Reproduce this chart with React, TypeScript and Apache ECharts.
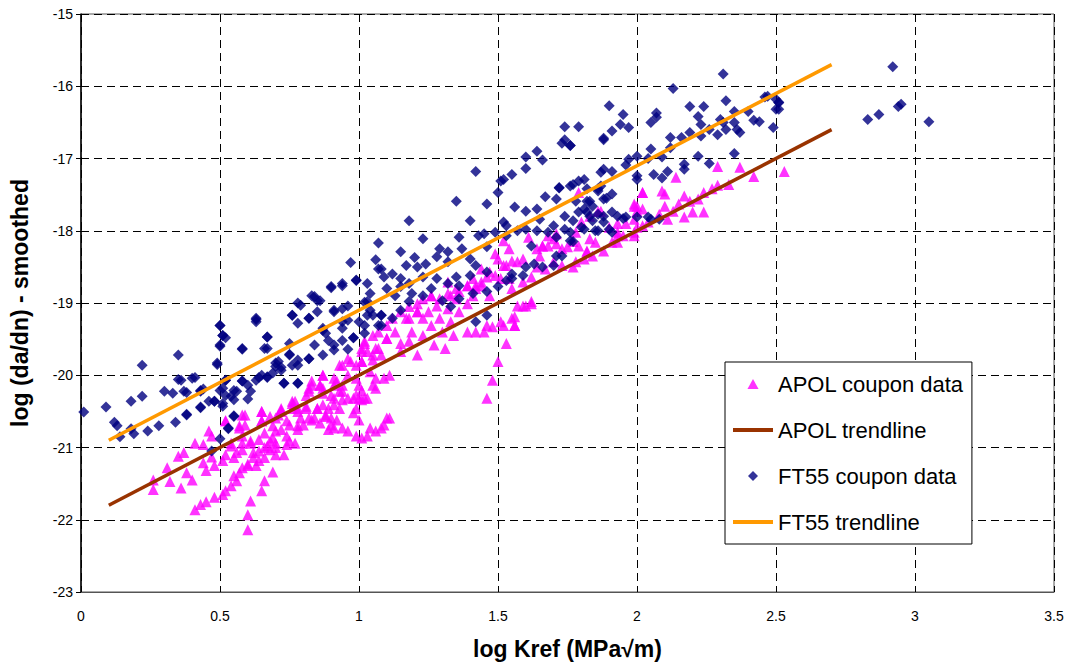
import React, { useEffect, useRef } from "react";
import * as echarts from "echarts";

const xTicks = [0, 0.5, 1, 1.5, 2, 2.5, 3, 3.5];
const yTicks = [-23, -22, -21, -20, -19, -18, -17, -16, -15];

const apolTrend: [number, number][] = [[0.1, -21.8], [2.7, -16.6]];
const ft55Trend: [number, number][] = [[0.1, -20.9], [2.7, -15.7]];

const ft55Data: [number, number][] = [
  [0.01, -20.51], [0.13, -20.70], [0.09, -20.44], [0.12, -20.65], [0.14, -20.85], [0.18, -20.74], [0.19, -20.81],
  [0.18, -20.36], [0.22, -19.86], [0.22, -20.29], [0.24, -20.77], [0.28, -20.70], [0.30, -20.22], [0.33, -20.25],
  [0.34, -20.65], [0.35, -19.72], [0.35, -20.06], [0.38, -20.24], [0.38, -20.54], [0.41, -20.03], [0.43, -20.22],
  [0.43, -20.44], [0.44, -20.19], [0.46, -20.36], [0.48, -20.36], [0.47, -21.05], [0.50, -19.31], [0.51, -19.45],
  [0.50, -19.60], [0.52, -19.48], [0.49, -19.85], [0.51, -20.18], [0.52, -20.07], [0.51, -20.43], [0.53, -20.74],
  [0.50, -20.88], [0.55, -20.56], [0.54, -20.29], [0.56, -20.22], [0.58, -19.64], [0.58, -20.08], [0.60, -20.33],
  [0.63, -19.26], [0.63, -19.21], [0.67, -19.47], [0.67, -19.63], [0.64, -20.03], [0.65, -20.0], [0.67, -20.02],
  [0.69, -19.97], [0.70, -19.88], [0.72, -19.89], [0.71, -19.81], [0.73, -20.11], [0.75, -19.56], [0.78, -20.11],
  [0.75, -19.71], [0.76, -19.86], [0.78, -19.79], [0.76, -19.17], [0.79, -19.03], [0.78, -19.28], [0.82, -19.21],
  [0.82, -19.77], [0.84, -18.91], [0.85, -19.12], [0.86, -18.97], [0.87, -19.38], [0.88, -19.42], [0.89, -19.52],
  [0.90, -18.77], [0.91, -19.12], [0.91, -19.58], [0.94, -18.76], [0.94, -19.08], [0.94, -19.26], [0.94, -19.52],
  [0.96, -19.64], [0.96, -19.24], [0.98, -19.48], [0.99, -18.69], [1.03, -18.73], [1.04, -19.10], [1.02, -18.99],
  [1.04, -18.87], [1.05, -19.17], [1.02, -19.31], [1.07, -19.31],
  [1.07, -18.17], [0.97, -18.44], [1.06, -18.40], [1.07, -18.53], [0.99, -18.68], [0.94, -18.73], [0.90, -18.79],
  [0.83, -18.90], [0.85, -18.97], [0.78, -19.00], [0.76, -19.17], [0.63, -19.23], [0.50, -19.31], [0.82, -19.21],
  [0.91, -19.10], [0.96, -19.04], [1.03, -18.98], [1.03, -19.17], [1.08, -19.17], [1.00, -19.26], [0.87, -19.35],
  [0.94, -19.35], [0.98, -19.48], [1.02, -19.42], [0.84, -19.58], [0.91, -19.65], [0.87, -19.72], [0.82, -19.77],
  [0.75, -19.72], [0.78, -19.86], [0.70, -19.83], [0.72, -19.93], [0.67, -20.03], [0.63, -20.07], [0.58, -20.08],
  [0.60, -20.14], [0.61, -20.22], [0.55, -20.21], [0.52, -20.07], [0.50, -20.21], [0.52, -20.28], [0.55, -20.34],
  [0.51, -20.39], [0.48, -20.36], [0.43, -20.21], [0.37, -20.22], [0.40, -20.04], [0.36, -20.07], [0.43, -20.45],
  [0.38, -20.55], [0.55, -20.57], [0.53, -20.73], [0.78, -20.11], [0.73, -20.11], [0.49, -19.83], [0.50, -19.58],
  [0.58, -19.63], [0.66, -19.63], [0.67, -19.47], [0.51, -19.45],
  [1.73, -16.79], [1.76, -16.82], [1.64, -16.90], [1.60, -16.98], [1.66, -17.02], [1.60, -17.14], [1.42, -17.18],
  [1.55, -17.22], [1.52, -17.29], [1.50, -17.47], [1.35, -17.59], [1.46, -17.63], [1.18, -17.86], [1.40, -17.86],
  [1.23, -18.11], [1.15, -18.29], [1.20, -18.37], [1.29, -18.25], [1.36, -18.09], [1.43, -18.07], [1.52, -17.88],
  [1.56, -17.67], [1.60, -17.73], [1.64, -17.70], [1.67, -17.53], [1.72, -17.41], [1.76, -17.38], [1.79, -17.31],
  [1.82, -17.42], [1.78, -17.59], [1.71, -17.56], [1.74, -17.80], [1.79, -17.74], [1.83, -17.80], [1.77, -17.86],
  [1.70, -17.93], [1.65, -17.84], [1.60, -17.98], [1.57, -18.00], [1.53, -17.93], [1.49, -18.02], [1.45, -18.04],
  [1.37, -18.25], [1.46, -18.22], [1.53, -18.07], [1.64, -18.00], [1.74, -17.98], [1.80, -17.95], [1.84, -17.86],
  [1.77, -18.15], [1.71, -18.35], [1.62, -18.21], [1.63, -18.46], [1.60, -18.50], [1.55, -18.60], [1.53, -18.69],
  [1.50, -18.77], [1.46, -18.84], [1.46, -18.57], [1.42, -18.48], [1.40, -18.62], [1.36, -18.76], [1.35, -18.64],
  [1.40, -18.39], [1.32, -18.43], [1.28, -18.36], [1.32, -18.29], [1.24, -18.46], [1.21, -18.50], [1.17, -18.48],
  [1.12, -18.60], [1.09, -18.64], [1.08, -18.53], [1.15, -18.66], [1.18, -18.73], [1.23, -18.64], [1.28, -18.66],
  [1.32, -18.73], [1.26, -18.80], [1.19, -18.87], [1.15, -18.77], [1.10, -18.80], [1.13, -18.90], [1.18, -18.98],
  [1.23, -18.90], [1.30, -18.97], [1.36, -18.94], [1.41, -18.87], [1.33, -19.05], [1.15, -19.10], [1.12, -19.21],
  [1.08, -19.17], [1.08, -19.31], [1.46, -19.17], [1.42, -19.26],
  [2.31, -15.83], [2.13, -16.03], [2.32, -16.20], [2.51, -16.23], [2.47, -16.14], [2.51, -16.32], [1.90, -16.27],
  [1.95, -16.39], [2.19, -16.28], [2.24, -16.28], [2.35, -16.35], [2.40, -16.35], [2.07, -16.37], [2.07, -16.43],
  [2.05, -16.50], [2.22, -16.42], [2.30, -16.46], [2.31, -16.50], [2.42, -16.47], [2.44, -16.49], [2.49, -16.57],
  [2.35, -16.50], [2.36, -16.60], [2.37, -16.64], [2.32, -16.60], [2.29, -16.67], [2.26, -16.60], [2.23, -16.53],
  [2.23, -16.69], [2.19, -16.64], [2.16, -16.71], [2.12, -16.71], [2.12, -16.85], [2.05, -16.87], [1.97, -16.57],
  [1.94, -16.53], [1.91, -16.62], [1.88, -16.72], [2.35, -16.93], [2.22, -16.97], [2.09, -16.98], [2.04, -17.00],
  [2.00, -16.97], [1.97, -17.01], [1.96, -17.09], [2.17, -17.08], [2.17, -17.15], [2.26, -17.07], [2.11, -17.18],
  [2.06, -17.22], [2.09, -17.27], [2.00, -17.24], [1.91, -17.18], [1.88, -17.15], [1.87, -17.19], [1.81, -17.29],
  [1.87, -17.38], [1.86, -17.45], [1.91, -17.49], [1.89, -17.55], [1.82, -17.59], [1.84, -17.66], [1.82, -17.74],
  [1.86, -17.77], [1.91, -17.74], [1.88, -17.88], [1.96, -17.81], [2.00, -17.81], [2.05, -17.84], [2.08, -17.84],
  [1.91, -18.02], [1.85, -18.00], [1.81, -17.98],
  [1.51, -17.31], [1.72, -17.40], [1.77, -17.36], [1.86, -17.42], [2.00, -17.29], [1.83, -17.59], [1.88, -17.56],
  [1.81, -17.70], [1.88, -17.80], [1.93, -17.80], [1.95, -17.83], [2.04, -17.81], [1.90, -17.98], [1.86, -18.00],
  [1.76, -18.02], [1.71, -18.09], [1.76, -18.14], [1.68, -18.02], [1.73, -18.35], [1.70, -18.48], [1.66, -18.50],
  [1.59, -18.62], [1.55, -18.66],
  [1.74, -16.56], [1.79, -16.56], [1.74, -16.74], [1.76, -16.82], [1.88, -16.74],
  [2.46, -16.15], [2.51, -16.22], [2.50, -16.32], [2.50, -16.18],
  [2.92, -15.73], [2.83, -16.46], [2.87, -16.39], [2.94, -16.28], [2.95, -16.25], [3.05, -16.49],
];

const apolData: [number, number][] = [
  [0.26, -21.45], [0.26, -21.58], [0.31, -21.28], [0.32, -21.47], [0.35, -21.12], [0.37, -21.07], [0.36, -21.56],
  [0.38, -21.35], [0.40, -21.45], [0.41, -20.94], [0.44, -20.96], [0.41, -21.86], [0.43, -21.79], [0.45, -21.75],
  [0.48, -21.69], [0.51, -21.65], [0.52, -21.60], [0.54, -21.53], [0.56, -21.46], [0.55, -21.39], [0.57, -21.35],
  [0.58, -21.28], [0.60, -21.25], [0.61, -21.74], [0.60, -21.93], [0.60, -22.14], [0.65, -21.60], [0.66, -21.46],
  [0.69, -21.34], [0.63, -21.25], [0.62, -21.14], [0.64, -21.18], [0.66, -21.14], [0.44, -21.21], [0.45, -21.32],
  [0.48, -21.25], [0.47, -21.13], [0.51, -21.18], [0.52, -21.10], [0.55, -21.14], [0.54, -20.98], [0.56, -21.07],
  [0.58, -21.03], [0.60, -21.23], [0.62, -21.07], [0.64, -21.05], [0.66, -21.0], [0.68, -21.03], [0.70, -21.10],
  [0.73, -21.10], [0.67, -20.98], [0.58, -20.94], [0.61, -20.91], [0.64, -20.89], [0.68, -20.91], [0.70, -20.94],
  [0.74, -20.96], [0.75, -20.91], [0.77, -20.94], [0.46, -20.77], [0.47, -20.84], [0.52, -20.63], [0.54, -20.94],
  [0.57, -20.73], [0.59, -20.55], [0.58, -20.84], [0.61, -20.94], [0.65, -20.50], [0.65, -20.63], [0.66, -20.80],
  [0.68, -20.57], [0.69, -20.70], [0.70, -20.77], [0.71, -20.55], [0.72, -20.48], [0.74, -20.84], [0.75, -20.69],
  [0.76, -20.39], [0.78, -20.46], [0.78, -20.75], [0.80, -20.69], [0.81, -20.46], [0.82, -20.22], [0.82, -20.59],
  [0.85, -20.46], [0.86, -20.14], [0.87, -20.25], [0.86, -20.66], [0.88, -20.57], [0.89, -20.46], [0.90, -20.69],
  [0.91, -20.32], [0.92, -20.62], [0.94, -20.73], [0.96, -20.77], [0.94, -20.34], [0.99, -20.46], [0.99, -20.84],
  [1.01, -20.87], [1.03, -20.84], [1.06, -20.77], [1.08, -20.73], [1.10, -20.59], [0.94, -20.22], [1.00, -20.32],
  [1.01, -20.21], [1.05, -20.14], [1.02, -20.32], [0.91, -20.14], [0.83, -20.08],
  [0.87, -20.0], [0.82, -20.18], [0.86, -20.14], [0.87, -20.18], [0.94, -19.86], [0.96, -19.77], [0.96, -20.0],
  [0.99, -20.04], [1.01, -19.81], [1.02, -19.56], [1.01, -19.67], [1.04, -19.95], [1.05, -19.72], [1.06, -20.04],
  [0.92, -20.08], [0.91, -20.41], [0.96, -20.32], [0.93, -20.22], [0.99, -20.27], [1.01, -20.34], [0.85, -20.46],
  [0.88, -20.55], [0.84, -20.59], [0.91, -20.73], [0.89, -20.75], [0.79, -20.59], [0.81, -20.43], [0.76, -20.36],
  [0.78, -20.50], [0.72, -20.46], [0.74, -20.63], [0.72, -20.75], [0.69, -20.87], [0.70, -21.0], [0.65, -20.50],
  [0.65, -20.63], [0.58, -20.55], [0.59, -20.69], [0.57, -20.70], [0.52, -20.63],
  [1.02, -19.53], [1.03, -19.67], [1.01, -19.81], [0.99, -19.86], [1.05, -19.79], [1.07, -19.63], [1.08, -19.72],
  [1.10, -19.49], [1.13, -19.40], [1.15, -19.56], [1.15, -19.67], [1.19, -19.40], [1.18, -19.53], [1.21, -19.72],
  [1.23, -19.45], [1.23, -19.21], [1.26, -19.31], [1.27, -19.58], [1.30, -19.40], [1.31, -19.63], [1.33, -19.26],
  [1.34, -19.45], [1.36, -19.12], [1.39, -19.40], [1.42, -19.40], [1.45, -19.40], [1.48, -19.33], [1.52, -19.31],
  [1.56, -19.31], [1.56, -19.19], [1.59, -19.04], [1.62, -19.01], [1.53, -19.56], [1.50, -19.81], [1.48, -20.07],
  [1.46, -20.32], [1.29, -19.21], [1.25, -19.12], [1.21, -19.12], [1.18, -19.21], [1.23, -18.94], [1.28, -19.04],
  [1.32, -19.08], [1.33, -18.90], [1.36, -18.84], [1.39, -19.01], [1.42, -18.80], [1.44, -18.71], [1.47, -18.90],
  [1.51, -18.66], [1.54, -18.66], [1.55, -18.80], [1.59, -18.71], [1.62, -18.64], [1.64, -18.50], [1.67, -18.53],
  [1.70, -18.43], [1.73, -18.48], [1.77, -18.50], [1.81, -18.39], [1.84, -18.35], [1.88, -18.28], [1.91, -18.16],
  [1.95, -18.07], [1.99, -18.02], [2.02, -17.93], [2.00, -17.73], [2.02, -17.47], [2.00, -17.66], [1.93, -18.07],
  [1.83, -18.11], [1.79, -18.21], [1.75, -18.22], [1.66, -18.21], [1.59, -18.39], [1.55, -18.42], [1.52, -18.48],
  [1.49, -18.62], [1.46, -18.64], [1.42, -18.76], [1.39, -18.76], [1.35, -18.80], [1.32, -18.87], [1.29, -18.94],
  [1.26, -18.90], [1.21, -19.01], [1.18, -19.05], [1.15, -19.12], [1.12, -19.21], [1.10, -19.31], [1.07, -19.40],
  [1.05, -19.45], [1.57, -19.04], [1.65, -18.35], [1.68, -18.21], [1.70, -18.11], [1.71, -18.18], [1.77, -18.15],
  [1.78, -18.02], [1.80, -17.88], [1.83, -17.80], [1.86, -17.73], [1.93, -17.90], [1.79, -17.47], [1.68, -18.07],
  [1.64, -18.25], [1.54, -18.25], [1.50, -18.39], [1.44, -18.53], [1.41, -18.66], [2.02, -17.70], [1.99, -17.84],
  [2.29, -17.11], [2.37, -17.12], [2.53, -17.18], [2.42, -17.25], [2.14, -17.26], [2.33, -17.36], [2.29, -17.37],
  [2.27, -17.42], [2.24, -17.47], [2.22, -17.56], [2.19, -17.59], [2.17, -17.52], [2.15, -17.63], [2.20, -17.74],
  [2.24, -17.74], [2.17, -17.81], [2.13, -17.73], [2.11, -17.84], [2.10, -17.49], [2.09, -17.45], [2.10, -17.66],
  [2.08, -17.77], [2.02, -17.47], [1.99, -17.66], [2.04, -17.88], [2.00, -17.95], [1.96, -17.90], [1.99, -18.07],
  [1.93, -18.02], [1.90, -17.95], [1.93, -18.16], [1.85, -18.16], [1.82, -18.28], [1.87, -17.73], [1.99, -17.63],
  [1.52, -18.14], [1.49, -18.32], [1.61, -18.09], [1.66, -18.21], [1.71, -18.04], [1.73, -18.25], [1.78, -18.43],
  [1.82, -18.29], [1.53, -18.48], [1.57, -18.43], [1.47, -18.57], [1.44, -18.76], [1.39, -18.76], [1.32, -18.71],
  [1.26, -18.90], [1.21, -19.12], [1.17, -19.21], [1.41, -18.90], [1.35, -18.94], [1.60, -19.04], [1.62, -18.98],
  [1.55, -19.21], [1.56, -19.31], [1.51, -19.26], [1.46, -19.31],
  [1.10, -19.49], [1.06, -19.63], [1.01, -19.63], [0.97, -19.81], [0.93, -19.86], [0.87, -20.0], [0.91, -20.04],
  [0.94, -20.14], [0.83, -20.14], [0.81, -20.28], [0.77, -20.36], [0.76, -20.46], [0.72, -20.50], [1.09, -20.04],
  [1.06, -20.18], [1.11, -20.0], [1.00, -20.14], [0.90, -20.28], [0.98, -20.32], [1.03, -20.32], [0.87, -20.41],
  [0.93, -20.46], [0.98, -20.52], [1.00, -20.62], [0.90, -20.59], [0.83, -20.62], [0.78, -20.70], [0.70, -20.59],
  [1.04, -20.73], [1.09, -20.69], [1.11, -20.59],
];

const seriesNames = ["APOL coupon data", "APOL trendline", "FT55 coupon data", "FT55 trendline"];

const triIcon = "path://M5,0L10,9L0,9Z";
const diaIcon = "path://M5,0L10,5L5,10L0,5Z";
const lineIcon = "path://M0,0L40,0L40,4L0,4Z";

export default function App() {
  const ref = useRef<HTMLDivElement>(null);
  useEffect(() => {
    if (!ref.current) return;
    const chart = echarts.init(ref.current, null, { renderer: "svg" });
    const font = "Arial, 'Liberation Sans', sans-serif";
    chart.setOption({
      animation: false,
      backgroundColor: "#fff",
      textStyle: { fontFamily: font },
      grid: { left: 81, right: 13, top: 14, bottom: 70, show: true, borderColor: "#555", borderWidth: 1 },
      legend: {
        data: [
          { name: seriesNames[0], icon: triIcon, itemStyle: { color: "#FF00FF", borderWidth: 0 } },
          { name: seriesNames[1], icon: lineIcon, itemStyle: { color: "#993300", borderWidth: 0 } },
          { name: seriesNames[2], icon: diaIcon, itemStyle: { color: "#000080", borderWidth: 0 } },
          { name: seriesNames[3], icon: lineIcon, itemStyle: { color: "#FF9900", borderWidth: 0 } },
        ],
        orient: "vertical",
        left: 725,
        top: 362,
        padding: [11, 8, 11, 8],
        itemGap: 24,
        itemWidth: 40,
        itemHeight: 10,
        backgroundColor: "#fff",
        borderColor: "#000",
        borderWidth: 1,
        borderRadius: 0,
        textStyle: { fontSize: 22, color: "#000", fontFamily: font, lineHeight: 21, padding: [0, 0, 0, 0] },
      },
      xAxis: {
        type: "value",
        min: xTicks[0],
        max: xTicks[xTicks.length - 1],
        interval: 0.5,
        name: "log Kref (MPa\u221Am)",
        nameLocation: "middle",
        nameGap: 45,
        nameTextStyle: { fontSize: 23, fontWeight: "bold", color: "#000", fontFamily: font },
        axisLine: { show: true, onZero: false, lineStyle: { color: "#555", width: 1 } },
        axisTick: { show: false },
        axisLabel: { fontSize: 14, color: "#000", margin: 17, fontFamily: font },
        splitLine: { show: true, lineStyle: { color: "#000", type: [8, 5], width: 1 } },
      },
      yAxis: {
        type: "value",
        min: yTicks[0],
        max: yTicks[yTicks.length - 1],
        interval: 1,
        name: "log (da/dn) - smoothed",
        nameLocation: "middle",
        nameGap: 50,
        nameRotate: 90,
        nameTextStyle: { fontSize: 23, fontWeight: "bold", color: "#000", fontFamily: font },
        axisLine: { show: true, onZero: false, lineStyle: { color: "#000", width: 1.5 } },
        axisTick: { show: true, inside: false, length: 5, lineStyle: { color: "#000" } },
        axisLabel: { fontSize: 14, color: "#000", margin: 8, fontFamily: font },
        splitLine: { show: true, lineStyle: { color: "#000", type: [8, 5], width: 1 } },
      },
      series: [
        {
          name: seriesNames[0],
          type: "scatter",
          symbol: "triangle",
          symbolSize: 11,
          itemStyle: { color: "#FF00FF" },
          data: apolData,
          z: 2,
        },
        {
          name: seriesNames[1],
          type: "line",
          data: apolTrend,
          showSymbol: false,
          symbol: "none",
          lineStyle: { color: "#993300", width: 3.5 },
          itemStyle: { color: "#993300" },
          z: 4,
        },
        {
          name: seriesNames[2],
          type: "scatter",
          symbol: "diamond",
          symbolSize: 11,
          itemStyle: { color: "#000080" },
          data: ft55Data,
          z: 3,
        },
        {
          name: seriesNames[3],
          type: "line",
          data: ft55Trend,
          showSymbol: false,
          symbol: "none",
          lineStyle: { color: "#FF9900", width: 3.5 },
          itemStyle: { color: "#FF9900" },
          z: 4,
        },
      ],
    });
    return () => chart.dispose();
  }, []);
  return (
    <div
      ref={ref}
      style={{ position: "absolute", left: 0, top: 0, width: 1067, height: 665, background: "#fff" }}
    />
  );
}
